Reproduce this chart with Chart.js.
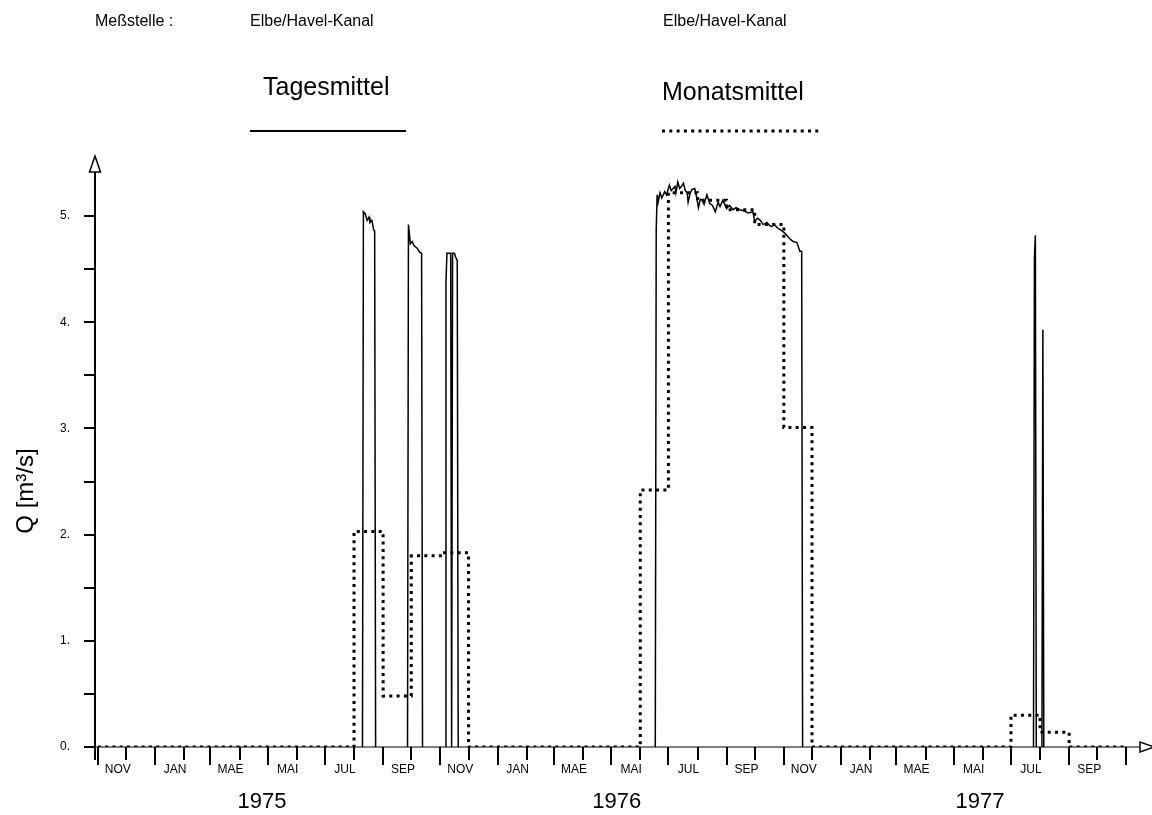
<!DOCTYPE html>
<html>
<head>
<meta charset="utf-8">
<script src="https://cdn.jsdelivr.net/npm/chart.js@4/dist/chart.umd.min.js"></script>
<style>
  body { margin: 0; background: #fff; }
  canvas { display: block; }
</style>
</head>
<body>
<canvas id="chart" width="1152" height="815"></canvas>
<script>
// Abfluss Elbe/Havel-Kanal, hydrologische Jahre 1975-1977 (Beginn 1. November)
const startDate = '1974-11-01'

// Tagesmittel (Stuetzpunkte der Tageswerte, null = keine Linie)
const tagDates = [
    '1975-08-10', '1975-08-11', '1975-08-13', '1975-08-15', '1975-08-17', '1975-08-18', '1975-08-20', '1975-08-22', '1975-08-23', '1975-08-24', '1975-08-25',
    '1975-09-27', '1975-09-28', '1975-09-30', '1975-10-02', '1975-10-04', '1975-10-07', '1975-10-10', '1975-10-12', '1975-10-13', '1975-10-14',
    '1975-11-06', '1975-11-07', '1975-11-08', '1975-11-12', '1975-11-13', '1975-11-14', '1975-11-16', '1975-11-17', '1975-11-19', '1975-11-20', '1975-11-21',
    '1976-06-17', '1976-06-18', '1976-06-19', '1976-06-20', '1976-06-22', '1976-06-24', '1976-06-27', '1976-06-29', '1976-07-02', '1976-07-04',
    '1976-07-05', '1976-07-08', '1976-07-09', '1976-07-11', '1976-07-13', '1976-07-15', '1976-07-17', '1976-07-19', '1976-07-21', '1976-07-22',
    '1976-07-24', '1976-07-26', '1976-07-29', '1976-07-31', '1976-08-02', '1976-08-04', '1976-08-06', '1976-08-08', '1976-08-11', '1976-08-14',
    '1976-08-17', '1976-08-20', '1976-08-23', '1976-08-25', '1976-08-28', '1976-09-01', '1976-09-04', '1976-09-08', '1976-09-11', '1976-09-15',
    '1976-09-19', '1976-09-24', '1976-09-29', '1976-10-01', '1976-10-04', '1976-10-07', '1976-10-10', '1976-10-14', '1976-10-17', '1976-10-19',
    '1976-10-22', '1976-10-25', '1976-10-30', '1976-11-02', '1976-11-04', '1976-11-08', '1976-11-11', '1976-11-15', '1976-11-18', '1976-11-20',
    '1976-11-21', '1976-11-22',
    '1977-07-25', '1977-07-26', '1977-07-27', '1977-07-28', '1977-07-29',
    '1977-08-03', '1977-08-04', '1977-08-05'
]
const tagValues = [
    0, 5.04, 5.02, 4.96, 4.99, 4.94, 4.96, 4.87, 4.86, 0, null,
    0, 4.92, 4.74, 4.76, 4.72, 4.70, 4.66, 4.65, 0, null,
    0, 4.38, 4.65, 4.65, 0, 4.65, 4.65, 4.62, 4.58, 0, null,
    0, 4.87, 5.20, 5.13, 5.22, 5.17, 5.23, 5.20, 5.29, 5.24,
    5.25, 5.28, 5.22, 5.32, 5.26, 5.28, 5.31, 5.24, 5.22, 5.13,
    5.21, 5.25, 5.26, 5.18, 5.08, 5.16, 5.15, 5.11, 5.20, 5.12,
    5.10, 5.04, 5.13, 5.09, 5.15, 5.07, 5.10, 5.06, 5.08, 5.06,
    5.05, 5.03, 5.04, 4.95, 4.98, 4.96, 4.92, 4.94, 4.91, 4.90,
    4.92, 4.89, 4.86, 4.84, 4.82, 4.78, 4.76, 4.75, 4.67, 4.67,
    0, null,
    0, 4.60, 4.82, 0, null,
    0, 3.93, 0
]

// Monatsmittel, ab November 1974 (je ein Wert pro Monat)
const monatValues = [
    0, 0, 0, 0, 0, 0, 0, 0, 0, 2.03, 0.48, 1.80,
    1.83, 0, 0, 0, 0, 0, 0, 2.42, 5.22, 5.15, 5.06, 4.92,
    3.01, 0, 0, 0, 0, 0, 0, 0, 0.30, 0.14, 0, 0
]

const monthLabels = ['NOV', 'JAN', 'MAE', 'MAI', 'JUL', 'SEP']
const yearLabels = ['1975', '1976', '1977']
const yTicks = [0, 0.5, 1, 1.5, 2, 2.5, 3, 3.5, 4, 4.5, 5]

const FONT = "'Liberation Sans', Arial, sans-serif"
const DOTS = [3, 4.3]

const dayOf = (d) => (Date.parse(d) - Date.parse(startDate)) / 86400000
const monthStart = (i) => (Date.UTC(1974, 10 + i, 1) - Date.parse(startDate)) / 86400000

const tagPoints = tagDates.map((d, i) => ({ x: dayOf(d), y: tagValues[i] }))
const monatPoints = monatValues.map((v, i) => ({ x: monthStart(i), y: v }))
monatPoints.push({ x: monthStart(monatValues.length), y: monatValues[monatValues.length - 1] })
const monthTicks = []
for (let i = 0; i <= monatValues.length; i++) monthTicks.push(monthStart(i))

// wo die Jahreszahlen unter der Achse stehen
const yearAnchors = ['1975-04-25', '1976-05-07', '1977-05-29']

const decor = {
    id: 'decor',
    afterDraw(chart) {
        const ctx = chart.ctx
        const xs = chart.scales.x
        const ys = chart.scales.y
        const x0 = chart.chartArea.left
        const yb = ys.getPixelForValue(0)
        ctx.save()
        ctx.strokeStyle = '#000'
        ctx.fillStyle = '#000'

        // Monatsstriche, an den beschrifteten Monaten laenger
        ctx.lineWidth = 2
        monthTicks.forEach((v, i) => {
            const px = Math.round(xs.getPixelForValue(v))
            ctx.beginPath()
            ctx.moveTo(px, yb)
            ctx.lineTo(px, yb + (i % 2 === 0 ? 18 : 13))
            ctx.stroke()
        })

        // y-Achse mit Pfeil
        ctx.lineWidth = 2
        ctx.beginPath()
        ctx.moveTo(x0, yb + 13)
        ctx.lineTo(x0, 172)
        ctx.stroke()
        ctx.lineWidth = 1.5
        ctx.fillStyle = '#fff'
        ctx.beginPath()
        ctx.moveTo(x0, 156)
        ctx.lineTo(x0 - 5.5, 172)
        ctx.lineTo(x0 + 5.5, 172)
        ctx.closePath()
        ctx.fill()
        ctx.stroke()

        // x-Achse mit Pfeil
        const xr = chart.chartArea.right
        ctx.lineWidth = 1
        ctx.beginPath()
        ctx.moveTo(x0, yb)
        ctx.lineTo(xr, yb)
        ctx.stroke()
        ctx.lineWidth = 1.5
        ctx.beginPath()
        ctx.moveTo(xr + 14, yb)
        ctx.lineTo(xr, yb - 5)
        ctx.lineTo(xr, yb + 5)
        ctx.closePath()
        ctx.fill()
        ctx.stroke()

        ctx.fillStyle = '#000'
        ctx.textBaseline = 'alphabetic'
        ctx.textAlign = 'left'

        // Kopf
        ctx.font = `16px ${FONT}`
        ctx.fillText('Meßstelle :', 95, 26)
        ctx.fillText('Elbe/Havel-Kanal', 250, 26)
        ctx.fillText('Elbe/Havel-Kanal', 663, 26)

        // Legende
        ctx.font = `25px ${FONT}`
        ctx.fillText('Tagesmittel', 263, 95)
        ctx.fillText('Monatsmittel', 662, 100)
        ctx.lineWidth = 2
        ctx.beginPath()
        ctx.moveTo(250, 131)
        ctx.lineTo(406, 131)
        ctx.stroke()
        ctx.lineWidth = 3
        ctx.setLineDash(DOTS)
        ctx.beginPath()
        ctx.moveTo(662, 131)
        ctx.lineTo(820, 131)
        ctx.stroke()
        ctx.setLineDash([])

        // Jahre
        ctx.textAlign = 'center'
        ctx.font = `22px ${FONT}`
        yearLabels.forEach((y, i) => {
            ctx.fillText(y, xs.getPixelForValue(dayOf(yearAnchors[i])), 808)
        })

        // y-Titel
        ctx.save()
        ctx.translate(33, 491)
        ctx.rotate(-Math.PI / 2)
        ctx.font = `24px ${FONT}`
        ctx.fillText('Q [m³/s]', 0, 0)
        ctx.restore()

        ctx.restore()
    }
}

new Chart(document.getElementById('chart'), {
    type: 'line',
    data: {
        datasets: [
            {
                label: 'Monatsmittel',
                data: monatPoints,
                stepped: 'before',
                borderColor: '#000',
                borderWidth: 3,
                borderDash: DOTS,
                pointRadius: 0,
                order: 0
            },
            {
                label: 'Tagesmittel',
                data: tagPoints,
                borderColor: '#000',
                borderWidth: 1.5,
                pointRadius: 0,
                spanGaps: false,
                order: 1
            }
        ]
    },
    options: {
        responsive: false,
        animation: false,
        devicePixelRatio: 1,
        layout: { padding: { left: 0, top: 163, right: 12, bottom: 0 } },
        plugins: { legend: { display: false }, tooltip: { enabled: false } },
        scales: {
            x: {
                type: 'linear',
                min: -3,
                max: 1110.5,
                border: { display: false },
                grid: { drawOnChartArea: false, tickLength: 15, tickColor: 'rgba(0,0,0,0)' },
                afterBuildTicks: (scale) => { scale.ticks = monthTicks.map(v => ({ value: v })) },
                afterFit: (scale) => { scale.height = 68 },
                ticks: {
                    autoSkip: false,
                    maxRotation: 0,
                    labelOffset: 20,
                    padding: 0,
                    color: '#000',
                    font: { family: FONT, size: 12 },
                    callback: (v, i) => (i % 2 === 0 && i < 36) ? monthLabels[(i / 2) % 6] : ''
                }
            },
            y: {
                min: 0,
                max: 5.5,
                border: { display: false },
                grid: { drawOnChartArea: false, tickLength: 11, color: '#000', lineWidth: 2 },
                afterBuildTicks: (scale) => { scale.ticks = yTicks.map(v => ({ value: v })) },
                afterFit: (scale) => { scale.width = 95 },
                ticks: {
                    padding: 14,
                    color: '#000',
                    font: { family: FONT, size: 12 },
                    callback: (v) => Number.isInteger(v) ? v + '.' : ''
                }
            }
        }
    },
    plugins: [decor]
})
</script>
</body>
</html>
